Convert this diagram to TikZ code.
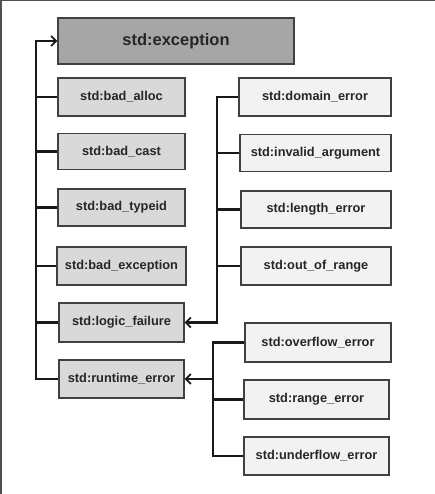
\documentclass[tikz,border=0pt]{standalone}
\usepackage{fontspec}
\setmainfont{Liberation Sans}
\usetikzlibrary{arrows.meta}
\definecolor{darkfill}{HTML}{A6A6A6}
\definecolor{midfill}{HTML}{D9D9D9}
\definecolor{lightfill}{HTML}{F2F2F2}
\definecolor{edgecol}{HTML}{404040}
\definecolor{framecol}{HTML}{505050}
\tikzset{
  box/.style={draw=edgecol, line width=1.1pt, inner sep=0pt, font=\bfseries\fontsize{12.8}{15}\selectfont, text=black!85},
  leftbox/.style={box, fill=midfill, minimum width=127pt},
  rightbox/.style={box, fill=lightfill},
  bus/.style={line width=2.2pt, black!90},
  arr/.style={bus, -{Straight Barb[length=5pt,width=10pt,line width=1.8pt]}},
}
\begin{document}
\begin{tikzpicture}[x=1pt,y=-1pt]
\useasboundingbox (0,0) rectangle (435,494);
\draw[framecol, line width=1.5pt] (0.75,494) -- (0.75,0.75) -- (435,0.75);
% left column
\node[box, fill=darkfill, minimum width=236pt, minimum height=46pt, font=\bfseries\fontsize{16.5}{19}\selectfont] (exc) at (176,41) {std:exception};
\node[leftbox, minimum height=38pt] (ba) at (121.5,97) {std:bad\_alloc};
\node[leftbox, minimum height=36pt] (bc) at (121.5,151.5) {std:bad\_cast};
\node[leftbox, minimum height=37pt] (bt) at (121.5,207.5) {std:bad\_typeid};
\node[leftbox, minimum width=129pt, minimum height=38pt] (be) at (121.5,266) {std:bad\_exception};
\node[leftbox, minimum width=125pt, minimum height=39pt] (lf) at (121.5,322.5) {std:logic\_failure};
\node[leftbox, minimum width=125pt, minimum height=38pt] (rt) at (121.5,379) {std:runtime\_error};
% right column
\node[rightbox, minimum width=152pt, minimum height=38pt] (de) at (315,97) {std:domain\_error};
\node[rightbox, minimum width=151pt, minimum height=37pt] (ia) at (315.5,153) {std:invalid\_argument};
\node[rightbox, minimum width=150pt, minimum height=37pt] (le) at (316,209.5) {std:length\_error};
\node[rightbox, minimum width=150pt, minimum height=38pt] (oor) at (316,266) {std:out\_of\_range};
\node[rightbox, minimum width=146pt, minimum height=39pt] (ov) at (318,342.5) {std:overflow\_error};
\node[rightbox, minimum width=145pt, minimum height=39pt] (re) at (316.5,399.5) {std:range\_error};
\node[rightbox, minimum width=145pt, minimum height=38pt] (uf) at (316.5,456) {std:underflow\_error};
% bus coordinates
\coordinate (lb) at (36,0);
\coordinate (mb) at (217,0);
\coordinate (rb) at (213,0);
% left bus
\draw[arr] (rt.west) -- (rt.west -| lb) |- (exc.west);
\foreach \n in {ba,bc,bt,be,lf}{\draw[bus] (\n.west) -- (\n.west -| lb);}
% logic bus
\draw[arr] (de.west) -| (mb |- lf.east) -- (lf.east);
\foreach \n in {ia,le,oor}{\draw[bus] (\n.west) -- (\n.west -| mb);}
% runtime bus
\draw[bus] (ov.west) -| (rb |- uf.west) -- (uf.west);
\draw[bus] (re.west) -- (re.west -| rb);
\draw[arr] (rt.east -| rb) -- (rt.east);
\end{tikzpicture}
\end{document}
